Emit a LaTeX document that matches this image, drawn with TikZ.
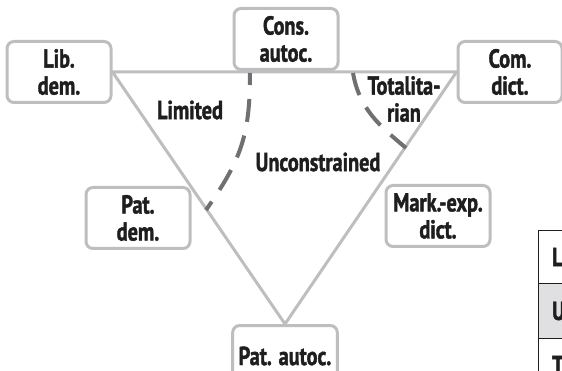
\documentclass[tikz,border=0pt]{standalone}
\usepackage{fontspec}
\newfontfamily\regimefont{PT Sans Bold}[FakeStretch=0.78,FakeBold=1.5]
\usepackage{xcolor}
\definecolor{RegimeGray}{RGB}{190,190,193}
\definecolor{BoundGray}{RGB}{112,112,115}
\definecolor{RowGray}{RGB}{224,224,226}
\definecolor{InkBlack}{RGB}{30,30,30}
\newcommand{\labelfont}{\regimefont\fontsize{26}{27}\selectfont\color{InkBlack}}

\begin{document}
\begin{tikzpicture}[
x=1pt,y=-1pt,
box/.style={
    rectangle,
    rounded corners=7pt,
    draw=RegimeGray,
    line width=3pt,
    fill=white,
    minimum width=104pt,
    minimum height=61pt,
    inner xsep=6pt,
    align=center,
    font=\labelfont
},
edge/.style={line width=3pt,draw=RegimeGray},
bound/.style={line width=4pt,draw=BoundGray,dash pattern=on 23pt off 14pt},
tag/.style={font=\labelfont,align=center,inner sep=0pt}
]
\useasboundingbox (0,0) rectangle (562,371);
\clip (0,0) rectangle (562,371);

% regime boxes
\node[box] (libdem) at (59,72) {Lib.\\dem.};
\node[box] (consautoc) at (286,39) {Cons.\\autoc.};
\node[box] (comdict) at (510,72) {Com.\\dict.};
\node[box] (patdem) at (138,218) {Pat.\\dem.};
\node[box] (markdict) at (438,216) {Mark.-exp.\\dict.};
\node[box] (patautoc) at (285,356) {Pat. autoc.};

% triangle
\draw[edge] (libdem.east) -- (comdict.west) -- (patautoc.north) -- cycle;

% boundaries
\coordinate (limtop) at (250,73);
\coordinate (limend) at (206,210);
\coordinate (tottop) at (353,73);
\coordinate (totend) at (406,148);
\draw[bound,dash phase=11pt] (limtop) to[out=-90,in=55,looseness=1.1] (limend);
\draw[bound] (tottop) to[out=-80,in=140] (totend);

% region labels
\node[tag] (limited) at (190,110) {Limited};
\node[tag] (uncons) at (318,162) {Unconstrained};
\node[tag] (total) at (404,99) {Totalita-\\rian};

% legend table
\fill[RowGray] (538,283) rectangle (570,338);
\draw[InkBlack,line width=0.8pt] (570,230) -- (538,230) -- (538,380);
\draw[InkBlack,line width=0.8pt] (538,283) -- (570,283);
\draw[InkBlack,line width=0.8pt] (538,338) -- (570,338);
\node[tag,anchor=west] (rowl) at (552,257) {L};
\node[tag,anchor=west] (rowu) at (552,311) {U};
\node[tag,anchor=west] (rowt) at (552,365) {T};

\end{tikzpicture}
\end{document}
